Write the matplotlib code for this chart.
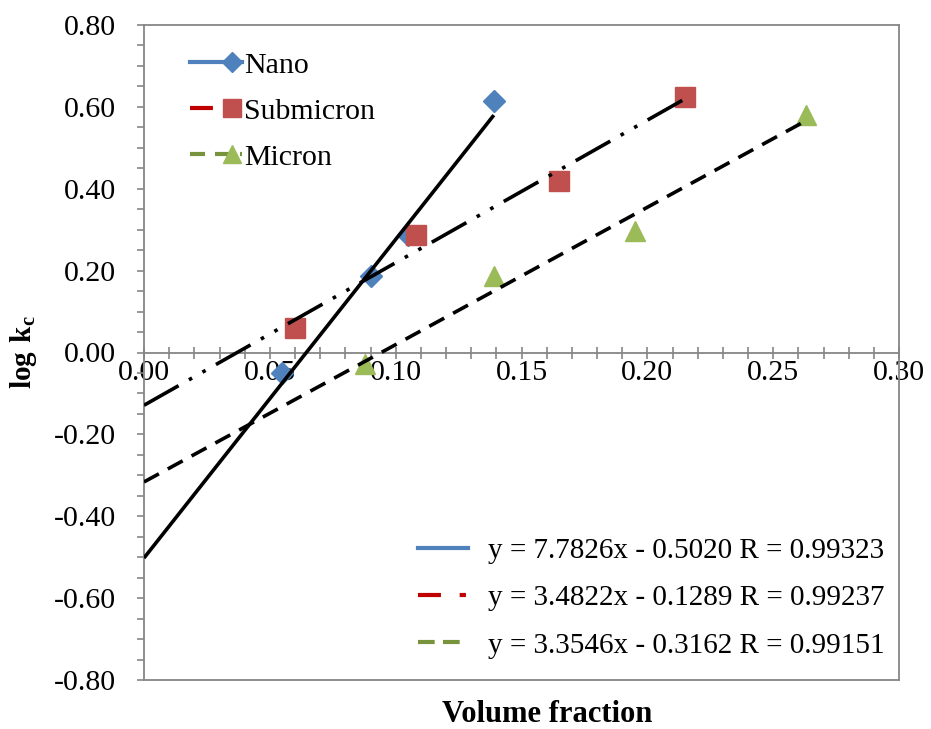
import numpy as np
import matplotlib
matplotlib.use("Agg")
import matplotlib.pyplot as plt
from matplotlib.lines import Line2D
from matplotlib.legend_handler import HandlerLine2DCompound
from matplotlib.ticker import MultipleLocator, FormatStrFormatter

plt.rcParams['font.family'] = ['Liberation Serif', 'DejaVu Serif']
plt.rcParams['mathtext.fontset'] = 'custom'
plt.rcParams['mathtext.rm'] = 'Liberation Serif'
plt.rcParams['mathtext.bf'] = 'Liberation Serif:bold'

# Measured data: volume fraction vs log kc
nano_x = [0.055, 0.090, 0.105, 0.139]
nano_y = [-0.049, 0.186, 0.288, 0.615]
sub_x = [0.060, 0.108, 0.165, 0.215]
sub_y = [0.061, 0.286, 0.418, 0.623]
mic_x = [0.088, 0.139, 0.195, 0.263]
mic_y = [-0.027, 0.188, 0.298, 0.579]

# Linear fits (slope, intercept, R)
nano_fit = (7.7826, -0.5020, 0.99323)
sub_fit = (3.4822, -0.1289, 0.99237)
mic_fit = (3.3546, -0.3162, 0.99151)

series_names = ["Nano", "Submicron", "Micron"]

fig = plt.figure(figsize=(9.31, 7.29), dpi=100)
ax = fig.add_axes([144/931, 1-680/729, (899-144)/931, (680-25)/729])

c_blue, c_red, c_green = "#4F81BD", "#C0504D", "#9BBB59"
ax.plot(nano_x, nano_y, 'D', color=c_blue, ms=11, zorder=3)
ax.plot(sub_x, sub_y, 's', color=c_red, ms=14.5, zorder=3)
ax.plot(mic_x, mic_y, '^', color=c_green, ms=15, zorder=3)

lw = 2.6
def fit_line(fit, xmax, ls):
    xs = np.array([0.0, xmax])
    ax.plot(xs, fit[0]*xs + fit[1], color='black', lw=lw, ls=ls, zorder=4,
            solid_capstyle='butt', dash_capstyle='butt')

fit_line(nano_fit, max(nano_x), '-')
fit_line(sub_fit, max(sub_x), (0, (11, 3.3, 1, 3.3, 1, 3.3)))
fit_line(mic_fit, max(mic_x), (0, (4.7, 2.8)))

ax.set_xlim(0, 0.30)
ax.set_ylim(-0.80, 0.80)

spine_c = "#868686"
for s in ax.spines.values():
    s.set_color(spine_c)
    s.set_linewidth(1.3)
ax.spines['bottom'].set_position(('data', 0))
ax.axhline(-0.80, color=spine_c, lw=1.3, clip_on=False, zorder=5)

ax.xaxis.set_major_locator(MultipleLocator(0.05))
ax.xaxis.set_minor_locator(MultipleLocator(0.01))
ax.yaxis.set_major_locator(MultipleLocator(0.20))
ax.yaxis.set_minor_locator(MultipleLocator(0.05))
ax.xaxis.set_major_formatter(FormatStrFormatter('%.2f'))
ax.yaxis.set_major_formatter(FormatStrFormatter('%.2f'))
ax.tick_params(axis='x', which='both', direction='inout', length=9, width=1.2,
               color=spine_c, labelsize=21.5, pad=1)
ax.tick_params(axis='y', which='both', direction='out', length=5, width=1.2,
               color=spine_c, labelsize=21.5, pad=15)

ax.set_xlabel("Volume fraction", fontsize=22, fontweight='bold', va='top')
ax.xaxis.set_label_coords(0.534, -0.031)
ax.set_ylabel(r"$\mathbf{log\ k_c}$", fontsize=21)
ax.yaxis.set_label_coords(-0.139, 0.5)


class EndMarkerHandler(HandlerLine2DCompound):
    """Legend handler that puts the marker near the right end of the line."""
    def get_xdata(self, legend, xdescent, ydescent, width, height, fontsize):
        xdata = np.array([-xdescent, -xdescent + width])
        return xdata, np.array([-xdescent + 0.8 * width])


# Series legend
h1 = [Line2D([], [], color=c_blue, lw=3, marker='D', ms=10, mfc=c_blue, mec=c_blue),
      Line2D([], [], color="#C00000", lw=3, ls=(0, (5.5, 4.5)), marker='s', ms=13, mfc=c_red, mec=c_red),
      Line2D([], [], color="#77933C", lw=3, ls=(0, (3.6, 2.4)), marker='^', ms=13, mfc=c_green, mec=c_green)]
leg1 = ax.legend(h1, series_names, loc='upper left', bbox_to_anchor=(0.061, 0.959),
                 frameon=False, fontsize=21.5, handlelength=1.75, handletextpad=0.07,
                 labelspacing=0.64, borderaxespad=0, borderpad=0,
                 handler_map={Line2D: EndMarkerHandler()})
ax.add_artist(leg1)

# Fit legend
h2 = [Line2D([], [], color=c_blue, lw=3),
      Line2D([], [], color="#C00000", lw=3, ls=(0, (5.5, 4.5, 1.5, 4.5))),
      Line2D([], [], color="#77933C", lw=3, ls=(0, (4, 2)))]
labels2 = ["y = %.4fx - %.4f R = %.5f" % (f[0], -f[1], f[2]) for f in (nano_fit, sub_fit, mic_fit)]
ax.legend(h2, labels2, loc='lower right', bbox_to_anchor=(0.997, 0.015),
          frameon=False, fontsize=21, handlelength=1.7, handletextpad=0.7,
          labelspacing=0.71, borderaxespad=0, borderpad=0.4)

fig.savefig("out.png", dpi=100)
